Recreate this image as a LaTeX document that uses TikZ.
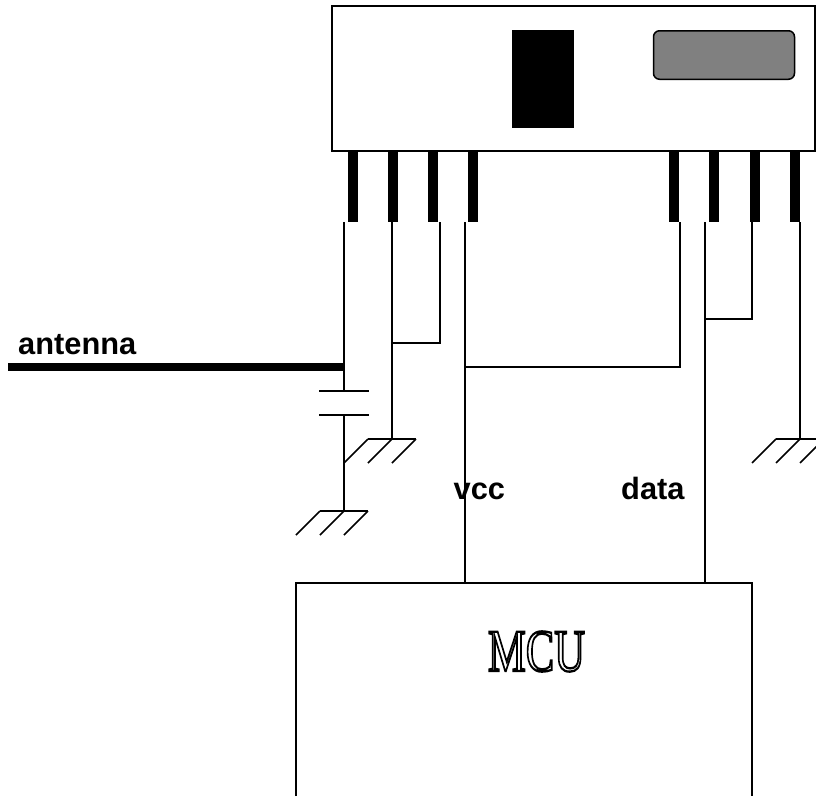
\documentclass[tikz,border=0pt]{standalone}
\usepackage{fontspec}
\setmainfont{Liberation Sans}
\newfontfamily\mcufont{Liberation Serif}
\tikzset{
  wire/.style={draw=black,line width=1.5pt},
  boxline/.style={draw=black,line width=1.8pt},
  pin/.style={fill=black,draw=none,minimum width=10pt,minimum height=71pt,inner sep=0pt,outer sep=0pt,rectangle},
  lbl/.style={font=\fontsize{30.8}{32}\selectfont\bfseries,inner sep=0pt,anchor=base west},
}
\begin{document}
\begin{tikzpicture}[x=1pt,y=-1pt]
\useasboundingbox (0,0) rectangle (816,796);
% radio module
\node[boxline,rectangle,minimum width=483pt,minimum height=145pt,inner sep=0pt,outer sep=0pt] (module) at (573.5,78.5) {};
\node[fill=black,draw=none,rectangle,minimum width=62pt,minimum height=98pt,inner sep=0pt] (chip) at (543,79) {};
\node[draw=black,line width=1.5pt,fill=black!50,rectangle,rounded corners=6pt,minimum width=141pt,minimum height=48.5pt,inner sep=0pt] (window) at (724,55) {};
% pins
\foreach \n/\x in {a/353,b/393,c/433,d/473,e/674,f/714,g/755,h/795}
  \node[pin] (pin\n) at (\x,186.5) {};
% wire end points
\foreach \n/\x in {a/344,b/392,c/440,d/465,e/680,f/705,g/752,h/800}
  \coordinate (w\n) at (\x,222);
\coordinate (capA) at (344,391);
\coordinate (capB) at (344,415);
\coordinate (gndA) at (344,511);
\coordinate (gndB) at (392,439);
\coordinate (gndC) at (800,439);
\coordinate (jb) at (392,343);
\coordinate (jc) at (440,343);
\coordinate (jd) at (465,367);
\coordinate (je) at (680,367);
\coordinate (jf) at (705,319);
\coordinate (jg) at (752,319);
\coordinate (ant) at (8,367);
\coordinate (antj) at (344,367);
\coordinate (mcuD) at (465,583);
\coordinate (mcuF) at (705,583);
% wires
\draw[wire] (wa) -- (capA);
\draw[wire] (capB) -- (gndA);
\draw[wire] (319,391) -- (369,391);
\draw[wire] (319,415) -- (369,415);
\draw[wire] (wb) -- (gndB);
\draw[wire] (wc) -- (jc) -- (jb);
\draw[wire] (wd) -- (mcuD);
\draw[wire] (we) -- (je) -- (jd);
\draw[wire] (wf) -- (mcuF);
\draw[wire] (wg) -- (jg) -- (jf);
\draw[wire] (wh) -- (gndC);
\draw[draw=black,line width=7.5pt] (ant) -- (antj);
% grounds
\foreach \c in {gndA,gndB,gndC}{
  \draw[wire] ([xshift=-24pt]\c) -- ([xshift=24pt]\c);
  \foreach \d in {-24,0,24}
    \draw[wire] ([xshift=\d pt]\c) -- ++(-24,24);
}
% MCU
\node[inner sep=0pt,xscale=0.71] (mcu) at (536.5,651.5) {\special{pdf:code 1 Tr 2.3 w}\mcufont\fontsize{60}{60}\selectfont MCU\special{pdf:code 0 Tr}};
\draw[boxline] (296,796) -- (296,583) -- (752,583) -- (752,796);
% labels
\node[lbl] (antenna) at (18,354) {antenna};
\node[lbl] (vcc) at (453.5,499) {vcc};
\node[lbl] (data) at (621,499) {data};
\end{tikzpicture}
\end{document}
